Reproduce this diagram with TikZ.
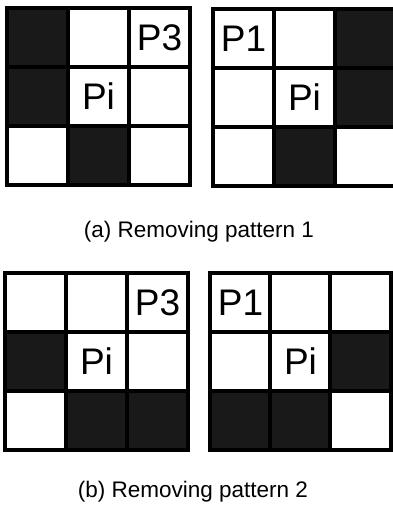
\documentclass[tikz,border=0pt]{standalone}
\usepackage{fontspec}
\setmainfont{Liberation Sans}
\definecolor{darkcell}{gray}{0.1}
\tikzset{
  wcell/.style={draw, line width=3.5pt, fill=white, minimum width=61pt, minimum height=59pt, inner sep=0pt, font=\fontsize{37}{37}\selectfont},
  dcell/.style={wcell, fill=darkcell},
  capt/.style={font=\fontsize{22.5}{22.5}\selectfont}
}
\begin{document}
\begin{tikzpicture}[x=1pt,y=-1pt]
\useasboundingbox (0,0) rectangle (392,515);
% (a) left
\node[dcell] (al11) at (37.5,37.5) {};
\node[wcell] (al12) at (98.5,37.5) {};
\node[wcell] (al13) at (159.5,37.5) {P3};
\node[dcell] (al21) at (37.5,96.5) {};
\node[wcell] (al22) at (98.5,96.5) {Pi};
\node[wcell] (al23) at (159.5,96.5) {};
\node[wcell] (al31) at (37.5,155.5) {};
\node[dcell] (al32) at (98.5,155.5) {};
\node[wcell] (al33) at (159.5,155.5) {};
% (a) right
\node[wcell] (ar11) at (243.5,38.5) {P1};
\node[wcell] (ar12) at (304.5,38.5) {};
\node[dcell] (ar13) at (365.5,38.5) {};
\node[wcell] (ar21) at (243.5,97.5) {};
\node[wcell] (ar22) at (304.5,97.5) {Pi};
\node[dcell] (ar23) at (365.5,97.5) {};
\node[wcell] (ar31) at (243.5,156.5) {};
\node[dcell] (ar32) at (304.5,156.5) {};
\node[wcell] (ar33) at (365.5,156.5) {};
\node[capt] (capa) at (199,232) {(a) Removing pattern 1};
% (b) left
\node[wcell] (bl11) at (35.5,302.5) {};
\node[wcell] (bl12) at (96.5,302.5) {};
\node[wcell] (bl13) at (157.5,302.5) {P3};
\node[dcell] (bl21) at (35.5,361.5) {};
\node[wcell] (bl22) at (96.5,361.5) {Pi};
\node[wcell] (bl23) at (157.5,361.5) {};
\node[wcell] (bl31) at (35.5,420.5) {};
\node[dcell] (bl32) at (96.5,420.5) {};
\node[dcell] (bl33) at (157.5,420.5) {};
% (b) right
\node[wcell] (br11) at (240.5,302.5) {P1};
\node[wcell] (br12) at (300.5,302.5) {};
\node[wcell] (br13) at (360.5,302.5) {};
\node[wcell] (br21) at (240.5,361.5) {};
\node[wcell] (br22) at (300.5,361.5) {Pi};
\node[dcell] (br23) at (360.5,361.5) {};
\node[dcell] (br31) at (240.5,420.5) {};
\node[dcell] (br32) at (300.5,420.5) {};
\node[wcell] (br33) at (360.5,420.5) {};
\node[capt] (capb) at (193,492) {(b) Removing pattern 2};
\end{tikzpicture}
\end{document}
